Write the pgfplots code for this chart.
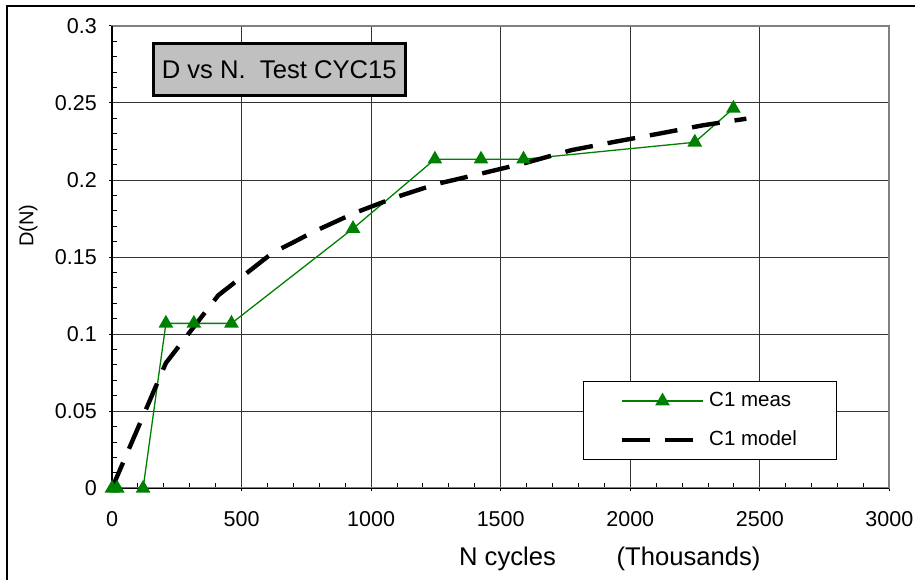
\documentclass[border=0pt]{standalone}
\usepackage{pgfplots}
\pgfplotsset{compat=1.18}
\usepackage{fontspec}
\setmainfont{Liberation Sans}
\definecolor{excelgreen}{RGB}{0,128,0}
\definecolor{titlegray}{RGB}{192,192,192}
\begin{document}
\begin{tikzpicture}[x=0.5pt,y=0.5pt]
\useasboundingbox (0,0) rectangle (915,579);
\draw[line width=0.8pt] (7,-5) -- (7,573) -- (920,573);
\begin{axis}[
  at={(56pt,45.35pt)}, anchor=south west,
  scale only axis, width=388.7pt, height=231.2pt,
  xmin=0, xmax=3000, ymin=0, ymax=0.3,
  xtick={0,500,1000,1500,2000,2500,3000},
  xticklabels={0,500,1000,1500,2000,2500,3000},
  ytick={0,0.05,0.1,0.15,0.2,0.25,0.3},
  yticklabels={0,0.05,0.1,0.15,0.2,0.25,0.3},
  minor x tick num=4, minor y tick num=4,
  tick pos=left,
  tick align=outside,
  major tick length=1.5pt, minor tick length=-2.5pt,
  tick style={black, line width=0.5pt},
  grid=major, major grid style={black!80, line width=0.5pt},
  axis line style={draw=gray, line width=1pt},
  ticklabel style={font=\fontsize{10.75}{13}\selectfont},
  xticklabel style={yshift=-6.6pt},
  yticklabel style={xshift=-2.6pt},
  /pgf/number format/assume math mode=true,
  clip=false,
  legend cell align=left,
  legend style={at={(axis description cs:0.6063,0.2321)}, anchor=north west,
    draw=black, line width=0.5pt, fill=white,
    inner xsep=18pt, inner ysep=3.5pt, row sep=6.5pt,
    font=\fontsize{10.25}{12}\selectfont},
  legend image code/.code={\draw[mark repeat=2,mark phase=2,#1] plot coordinates {(0pt,0pt) (20.25pt,0pt) (40.5pt,0pt)};},
]
\addplot[excelgreen, line width=0.65pt, mark=triangle*, mark size=3.6pt,
  mark options={solid, fill=excelgreen}] coordinates {
  (0,0) (20,0) (120,0) (208,0.107) (316,0.107) (461,0.107)
  (930,0.1685) (1246,0.2135) (1424,0.2135) (1588,0.2135)
  (2249,0.2245) (2398,0.2465)
};
\addlegendentry{C1 meas}
\addplot[black, line width=2.2pt, dash pattern=on 14pt off 7.5pt, mark=none] coordinates {
  (0,0) (208,0.0813) (410,0.1252) (487,0.1353) (622,0.1531) (686,0.1584)
  (776,0.1663) (937,0.1787) (1098,0.1890) (1252,0.1974) (1430,0.2044)
  (1600,0.2113) (1773,0.2194) (1940,0.2248) (2111,0.2301) (2280,0.2355)
  (2448,0.2398)
};
\addlegendentry{C1 model}
\draw[black, line width=0.75pt] (rel axis cs:0,1) -- (rel axis cs:0,0) -- (rel axis cs:1,0);
\end{axis}
\node[draw=black, line width=1.5pt, fill=titlegray, minimum width=126pt, minimum height=26.3pt,
  inner sep=0pt, font=\fontsize{12.8}{15}\selectfont] at (279.2,509.5) {D vs N.\ \ Test CYC15};
\node[anchor=base, inner sep=0pt, font=\fontsize{12.8}{15}\selectfont] at (507.5,13.3) {N cycles};
\node[anchor=base, inner sep=0pt, font=\fontsize{12.8}{15}\selectfont] at (688.5,13.3) {(Thousands)};
\node[rotate=90, anchor=base west, inner sep=0pt, font=\fontsize{10}{12}\selectfont] at (33.3,332) {D(N)};
\end{tikzpicture}
\end{document}
